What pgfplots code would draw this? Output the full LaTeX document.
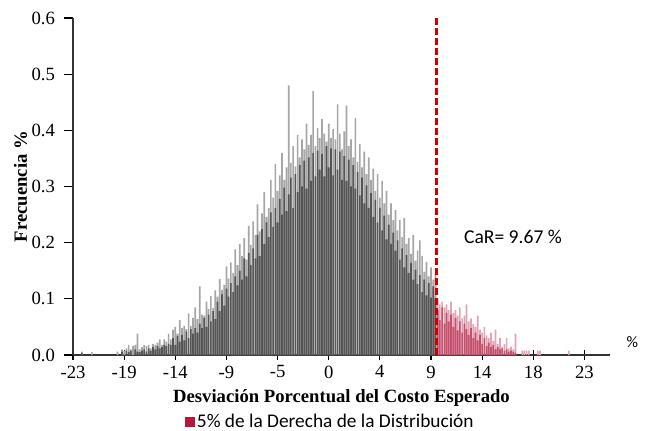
\documentclass[border=0pt]{standalone}
\usepackage{pgfplots}
\usepackage{pgfplotstable}
\pgfplotsset{compat=1.18}
\usepackage{fontspec}
\setmainfont{Liberation Serif}
\newfontfamily\carlito{Carlito}

\definecolor{dkgray}{HTML}{555555}
\definecolor{ltgray}{HTML}{A6A6A6}
\definecolor{dkred}{HTML}{C4506C}
\definecolor{ltred}{HTML}{E3A3B3}
\definecolor{legred}{HTML}{B8163A}
\definecolor{carline}{HTML}{CC0000}

% gray part of the histogram: bin centre, dark top, light spike
\pgfplotstableread{
x d l
-22.2 0.004 0.006
-21.3 0.000 0.005
-19.0 0.000 0.006
-18.6 0.006 0.010
-18.4 0.000 0.008
-18.2 0.008 0.012
-18.0 0.005 0.018
-17.8 0.008 0.010
-17.6 0.000 0.016
-17.4 0.010 0.018
-17.2 0.006 0.038
-17.0 0.005 0.010
-16.8 0.008 0.014
-16.6 0.010 0.018
-16.4 0.006 0.016
-16.2 0.012 0.018
-16.0 0.008 0.012
-15.8 0.014 0.020
-15.6 0.010 0.018
-15.4 0.016 0.022
-15.2 0.012 0.028
-15.0 0.014 0.018
-14.8 0.018 0.028
-14.6 0.016 0.024
-14.4 0.020 0.038
-14.2 0.018 0.028
-14.0 0.030 0.045
-13.8 0.018 0.050
-13.6 0.034 0.038
-13.4 0.024 0.062
-13.2 0.036 0.048
-13.0 0.026 0.052
-12.8 0.042 0.046
-12.6 0.030 0.074
-12.4 0.046 0.052
-12.2 0.038 0.066
-12.0 0.048 0.085
-11.8 0.040 0.064
-11.6 0.056 0.122
-11.4 0.048 0.072
-11.2 0.066 0.070
-11.0 0.050 0.095
-10.8 0.072 0.082
-10.6 0.060 0.105
-10.4 0.078 0.084
-10.2 0.064 0.115
-10.0 0.095 0.104
-9.8 0.078 0.135
-9.6 0.108 0.116
-9.4 0.088 0.125
-9.2 0.118 0.158
-9.0 0.104 0.136
-8.8 0.128 0.165
-8.6 0.112 0.146
-8.4 0.140 0.188
-8.2 0.124 0.160
-8.0 0.150 0.198
-7.8 0.134 0.176
-7.6 0.172 0.208
-7.4 0.140 0.170
-7.2 0.182 0.230
-7.0 0.160 0.196
-6.8 0.190 0.238
-6.6 0.172 0.214
-6.4 0.214 0.268
-6.2 0.176 0.220
-6.0 0.224 0.252
-5.8 0.198 0.290
-5.6 0.236 0.246
-5.4 0.210 0.262
-5.2 0.254 0.312
-5.0 0.228 0.280
-4.8 0.262 0.340
-4.6 0.236 0.292
-4.4 0.278 0.320
-4.2 0.250 0.360
-4.0 0.298 0.312
-3.8 0.256 0.334
-3.6 0.286 0.480
-3.4 0.316 0.342
-3.2 0.262 0.372
-3.0 0.322 0.336
-2.8 0.290 0.392
-2.6 0.338 0.352
-2.4 0.300 0.384
-2.2 0.346 0.366
-2.0 0.296 0.412
-1.8 0.352 0.374
-1.6 0.310 0.392
-1.4 0.360 0.470
-1.2 0.318 0.372
-1.0 0.364 0.404
-0.8 0.330 0.386
-0.6 0.358 0.420
-0.4 0.318 0.394
-0.2 0.372 0.380
0.0 0.334 0.412
0.2 0.368 0.386
0.4 0.320 0.402
0.6 0.366 0.384
0.8 0.330 0.446
1.0 0.362 0.394
1.2 0.312 0.366
1.4 0.354 0.398
1.6 0.310 0.444
1.8 0.348 0.372
2.0 0.300 0.384
2.2 0.338 0.352
2.4 0.296 0.422
2.6 0.326 0.344
2.8 0.284 0.376
3.0 0.316 0.334
3.2 0.270 0.362
3.4 0.302 0.322
3.6 0.262 0.352
3.8 0.288 0.312
4.0 0.246 0.332
4.2 0.276 0.292
4.4 0.236 0.322
4.6 0.262 0.280
4.8 0.222 0.310
5.0 0.248 0.270
5.2 0.206 0.292
5.4 0.232 0.250
5.6 0.198 0.270
5.8 0.218 0.240
6.0 0.186 0.258
6.2 0.204 0.222
6.4 0.170 0.240
6.6 0.190 0.210
6.8 0.156 0.244
7.0 0.178 0.198
7.2 0.146 0.208
7.4 0.164 0.180
7.6 0.134 0.214
7.8 0.152 0.168
8.0 0.126 0.186
8.2 0.142 0.204
8.4 0.112 0.176
8.6 0.134 0.148
8.8 0.106 0.166
9.0 0.128 0.140
9.2 0.102 0.156
9.4 0.122 0.134
9.6 0.100 0.146
}\graytab

% right 5% of the distribution
\pgfplotstableread{
x d l
9.8 0.080 0.100
10.0 0.062 0.090
10.2 0.085 0.095
10.4 0.056 0.085
10.6 0.075 0.090
10.8 0.060 0.080
11.0 0.072 0.095
11.2 0.050 0.075
11.4 0.066 0.080
11.6 0.044 0.070
11.8 0.060 0.085
12.0 0.040 0.065
12.2 0.056 0.070
12.4 0.046 0.090
12.6 0.036 0.060
12.8 0.048 0.065
13.0 0.030 0.055
13.2 0.040 0.050
13.4 0.026 0.070
13.6 0.036 0.045
13.8 0.020 0.040
14.0 0.030 0.050
14.2 0.016 0.035
14.4 0.022 0.030
14.6 0.014 0.040
14.8 0.018 0.025
15.0 0.010 0.045
15.2 0.014 0.020
15.4 0.010 0.030
15.6 0.012 0.015
15.8 0.008 0.020
16.0 0.010 0.030
16.2 0.006 0.012
16.4 0.008 0.015
16.6 0.006 0.010
16.8 0.004 0.038
17.4 0.000 0.008
17.6 0.000 0.008
17.8 0.000 0.008
18.0 0.000 0.008
18.8 0.000 0.008
19.0 0.000 0.008
21.6 0.000 0.008
}\redtab

\begin{document}
\begin{tikzpicture}
\begin{axis}[
    at={(0,0)}, anchor=south west,
    scale only axis,
    width=402.75pt, height=252.75pt,
    xmin=-23, xmax=25.3,
    ymin=0, ymax=0.6,
    axis lines*=left,
    axis line style={-, black!80, line width=0.8pt},
    xtick={-23,-18.4,-13.8,-9.2,-4.6,0,4.6,9.2,13.8,18.4,23},
    xticklabels={-23,-19,-14,-9,-5,0,4,9,14,18,23},
    ytick={0,0.1,...,0.6},
    /pgf/number format/assume math mode=true,
    x tick style={black, line width=0.8pt},
    y tick style={black, line width=0.8pt},
    xtick align=center,
    ytick align=outside,
    x tick label style={yshift=-1pt},
    y tick label style={xshift=-3pt, /pgf/number format/fixed,
        /pgf/number format/fixed zerofill, /pgf/number format/precision=1},
    major tick length=7pt,
    tick label style={font=\fontsize{14}{16}\selectfont},
    xlabel={\textbf{Desviación Porcentual del Costo Esperado}},
    ylabel={\textbf{Frecuencia \%}},
    label style={font=\fontsize{14}{16}\selectfont},
    xlabel style={yshift=-1.5pt},
    ylabel style={yshift=-3.5pt},
    legend style={at={(axis description cs:0.48,-0.162)}, anchor=north, draw=none,
        font=\carlito\fontsize{14.5}{16}\selectfont, inner sep=1pt},
    legend cell align=left,
    clip=false,
]
\addplot[ybar, bar width=0.15, bar shift=0pt, fill=ltgray, draw=none, forget plot] table[x=x, y=l] {\graytab};
\addplot[ybar, bar width=0.15, bar shift=0pt, fill=dkgray, draw=none, forget plot] table[x=x, y=d] {\graytab};
\addplot[ybar, bar width=0.15, bar shift=0pt, fill=ltred, draw=none, forget plot] table[x=x, y=l] {\redtab};
\addplot[ybar, bar width=0.15, bar shift=0pt, fill=dkred, draw=none, forget plot] table[x=x, y=d] {\redtab};
\addplot[carline, line width=2pt, dash pattern=on 5.5pt off 2pt, forget plot] coordinates {(9.67,0) (9.67,0.605)};
\addlegendimage{legend image code/.code={\fill[legred] (0pt,-3.2pt) rectangle (6.4pt,3.2pt);}}
\addlegendentry{5\% de la Derecha de la Distribución}
\node[anchor=west, font=\carlito\fontsize{14.7}{16}\selectfont] at (axis cs:11.75,0.21) {CaR= 9.67 \%};
\node[anchor=west, font=\carlito\fontsize{12}{14}\selectfont] at (axis cs:25.3,0.023) {\hspace{9pt}\%};
\end{axis}
\pgfresetboundingbox
\path (-54.75pt,-57pt) rectangle (429pt,266.25pt);
\end{tikzpicture}
\end{document}
